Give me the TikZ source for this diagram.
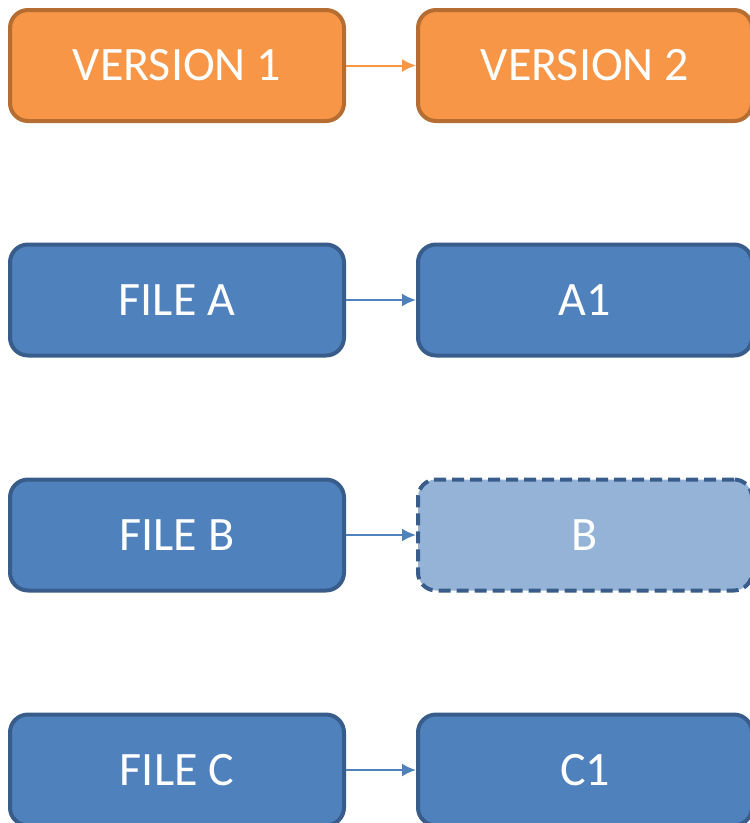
\documentclass[tikz,border=0pt]{standalone}
\usepackage{fontspec}
\setmainfont{Carlito}
\usepackage{tikz}
\usetikzlibrary{arrows.meta}
\definecolor{verfill}{HTML}{F79646}
\definecolor{verdraw}{HTML}{B66D31}
\definecolor{filefill}{HTML}{4F81BD}
\definecolor{filedraw}{HTML}{385D8A}
\definecolor{gonefill}{HTML}{95B3D7}
\tikzset{
  box/.style={rectangle,rounded corners=18pt,line width=4pt,minimum width=334pt,minimum height=111pt,
    text=white,font=\fontsize{48}{56}\selectfont},
  verbox/.style={box,fill=verfill,draw=verdraw},
  filebox/.style={box,fill=filefill,draw=filedraw},
  gonebox/.style={box,fill=gonefill,draw=filedraw,dash pattern=on 12pt off 6pt},
  link/.style={line width=2pt,-{Latex[length=14pt,width=13pt]}}
}
\begin{document}
\begin{tikzpicture}[x=1pt,y=1pt]
                      \useasboundingbox (0,0) rectangle (750,-823);
                      \clip (0,0) rectangle (750,-823);
                      \node[verbox](v1)at(177,-65.5){VERSION 1};
                      \node[verbox](v2)at(585,-65.5){VERSION 2};
                      \node[filebox](fa)at(177,-300){FILE A};
                      \node[filebox](a1)at(585,-300){A1};
                      \node[filebox](fb)at(177,-535){FILE B};
                      \node[gonebox](b)at(585,-535){B};
                      \node[filebox](fc)at(177,-770){FILE C};
                      \node[filebox](c1)at(585,-770){C1};
                      \draw[link,verfill](v1)--(v2);
                      \foreach \l/\r in {fa/a1, fb/b, fc/c1} \draw[link,filefill](\l)--(\r);
                  \end{tikzpicture}
\end{document}
